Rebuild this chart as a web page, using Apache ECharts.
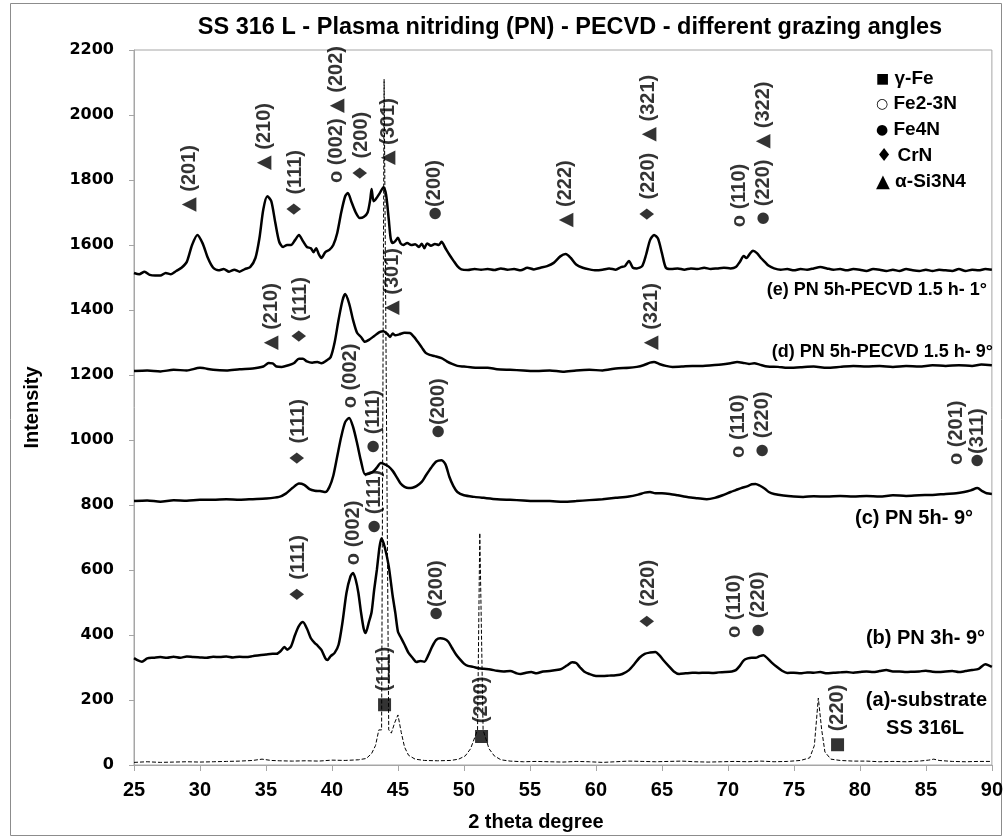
<!DOCTYPE html>
<html>
<head>
<meta charset="utf-8">
<script src="https://cdn.jsdelivr.net/npm/echarts@6/dist/echarts.min.js"></script>
<style>
html, body { margin: 0; padding: 0; background: #fff; }
#main { width: 1006px; height: 840px; }
</style>
</head>
<body>
<div id="main"></div>
<script>
// (e) PN 5h-PECVD 1.5 h - 1°
var thetaE = [25.0, 25.4, 25.8, 26.2, 26.6, 27.0, 27.4, 27.8, 28.2, 28.6, 29.0, 29.4, 29.8, 30.2, 30.6, 31.0, 31.4, 31.8, 32.2, 32.6, 33.0, 33.4, 33.8, 34.2, 34.5, 34.8, 35.1, 35.4, 35.7, 36.0, 36.3, 36.6, 36.9, 37.2, 37.5, 37.8, 38.1, 38.4, 38.6, 38.8, 39.0, 39.2, 39.5, 39.8, 40.1, 40.4, 40.7, 41.0, 41.2, 41.5, 41.8, 42.1, 42.4, 42.7, 42.9, 43.0, 43.15, 43.3, 43.6, 43.9, 44.1, 44.3, 44.45, 44.6, 44.8, 45.0, 45.2, 45.4, 45.7, 46.0, 46.3, 46.6, 46.8, 47.0, 47.2, 47.5, 47.8, 48.1, 48.3, 48.6, 48.9, 49.2, 49.5, 49.8, 50.3, 50.8, 51.3, 51.8, 52.3, 52.8, 53.3, 53.8, 54.3, 54.8, 55.3, 55.8, 56.3, 56.8, 57.3, 57.7, 58.1, 58.5, 59.0, 59.5, 60.0, 60.5, 61.0, 61.5, 61.9, 62.2, 62.5, 62.8, 63.1, 63.5, 63.8, 64.1, 64.4, 64.7, 65.0, 65.3, 65.7, 66.2, 66.7, 67.2, 67.7, 68.2, 68.7, 69.2, 69.7, 70.2, 70.6, 70.9, 71.2, 71.4, 71.7, 71.9, 72.2, 72.5, 72.8, 73.1, 73.5, 74.0, 74.5, 75.0, 75.5, 76.0, 76.5, 77.0, 77.5, 78.0, 78.5, 79.0, 79.5, 80.0, 80.5, 81.0, 81.5, 82.0, 82.5, 83.0, 83.5, 84.0, 84.5, 85.0, 85.5, 86.0, 86.5, 87.0, 87.5, 88.0, 88.5, 89.0, 89.5, 90.0];
var intE = [1514, 1510, 1518, 1508, 1506, 1506, 1514, 1510, 1520, 1530, 1548, 1600, 1631, 1605, 1560, 1530, 1522, 1526, 1518, 1524, 1518, 1526, 1532, 1560, 1620, 1710, 1750, 1735, 1670, 1610, 1594, 1600, 1600, 1615, 1631, 1612, 1594, 1590, 1578, 1590, 1572, 1560, 1578, 1585, 1600, 1637, 1700, 1750, 1760, 1730, 1700, 1683, 1686, 1700, 1740, 1772, 1735, 1740, 1758, 1778, 1755, 1680, 1620, 1606, 1612, 1622, 1605, 1600, 1606, 1600, 1602, 1594, 1604, 1590, 1605, 1598, 1603, 1600, 1610, 1590, 1570, 1552, 1535, 1525, 1523, 1526, 1524, 1526, 1523, 1528, 1524, 1526, 1522, 1530, 1525, 1530, 1535, 1545, 1565, 1572, 1560, 1540, 1530, 1525, 1522, 1524, 1528, 1524, 1532, 1535, 1551, 1530, 1528, 1535, 1570, 1615, 1631, 1620, 1575, 1530, 1526, 1528, 1524, 1528, 1526, 1530, 1526, 1528, 1530, 1528, 1532, 1548, 1566, 1560, 1575, 1582, 1575, 1560, 1548, 1536, 1528, 1524, 1526, 1522, 1526, 1524, 1528, 1532, 1528, 1524, 1526, 1522, 1526, 1524, 1520, 1526, 1524, 1520, 1524, 1520, 1526, 1522, 1520, 1524, 1520, 1524, 1522, 1520, 1526, 1520, 1524, 1522, 1526, 1524];

// (d) PN 5h-PECVD 1.5 h - 9°
var thetaD = [25.0, 26.0, 27.0, 28.0, 29.0, 30.0, 31.0, 32.0, 33.0, 34.0, 34.8, 35.2, 35.5, 35.8, 36.2, 36.7, 37.1, 37.5, 37.8, 38.1, 38.5, 38.9, 39.2, 39.6, 39.9, 40.2, 40.5, 40.8, 41.0, 41.3, 41.6, 41.9, 42.2, 42.5, 42.8, 43.2, 43.6, 43.9, 44.2, 44.4, 44.6, 44.8, 45.1, 45.5, 45.9, 46.2, 46.5, 46.8, 47.1, 47.4, 47.8, 48.3, 48.7, 49.1, 49.5, 50.0, 50.5, 51.0, 51.8, 52.5, 53.5, 54.5, 55.5, 56.5, 57.5, 58.5, 59.5, 60.5, 61.5, 62.5, 63.1, 63.6, 64.1, 64.4, 64.8, 65.3, 65.8, 66.5, 67.3, 68.1, 68.8, 69.5, 70.2, 70.7, 71.1, 71.6, 72.0, 72.4, 73.0, 73.8, 74.5, 75.5, 76.5, 77.5, 78.5, 79.5, 80.5, 81.5, 82.5, 83.5, 84.5, 85.5, 86.5, 87.5, 88.5, 89.2, 90.0];
var intD = [1212, 1214, 1211, 1216, 1214, 1222, 1216, 1214, 1218, 1220, 1226, 1237, 1236, 1226, 1225, 1230, 1236, 1250, 1250, 1242, 1238, 1240, 1236, 1245, 1255, 1300, 1370, 1430, 1449, 1420, 1369, 1330, 1317, 1302, 1308, 1320, 1332, 1335, 1326, 1317, 1328, 1322, 1325, 1330, 1329, 1318, 1302, 1285, 1268, 1262, 1258, 1252, 1242, 1234, 1228, 1226, 1224, 1222, 1222, 1218, 1216, 1214, 1212, 1214, 1210, 1214, 1216, 1214, 1220, 1222, 1225, 1230, 1238, 1240, 1234, 1228, 1225, 1226, 1228, 1228, 1230, 1232, 1236, 1240, 1238, 1234, 1236, 1232, 1226, 1225, 1222, 1224, 1226, 1222, 1225, 1228, 1226, 1228, 1225, 1228, 1226, 1230, 1228, 1230, 1228, 1232, 1230];

// (c) PN 5h - 9°
var thetaC = [25.0, 26.0, 27.0, 28.0, 29.0, 30.0, 31.0, 32.0, 33.0, 34.0, 35.0, 36.0, 36.5, 37.0, 37.5, 37.9, 38.3, 38.7, 39.1, 39.5, 39.8, 40.1, 40.4, 40.7, 41.0, 41.3, 41.6, 41.9, 42.2, 42.5, 42.8, 43.1, 43.4, 43.7, 44.0, 44.3, 44.6, 44.9, 45.2, 45.5, 45.8, 46.1, 46.4, 46.8, 47.1, 47.5, 47.9, 48.3, 48.6, 48.9, 49.2, 49.5, 50.0, 50.8, 51.5, 52.5, 53.5, 54.5, 55.5, 56.5, 57.5, 58.5, 59.5, 60.5, 61.5, 62.5, 63.2, 63.7, 64.1, 64.5, 65.0, 65.6, 66.2, 67.0, 67.7, 68.4, 69.0, 69.6, 70.2, 70.6, 71.0, 71.5, 71.8, 72.1, 72.4, 72.8, 73.1, 73.5, 74.2, 75.0, 75.7, 76.5, 77.5, 78.5, 79.5, 80.5, 81.5, 82.5, 83.5, 84.5, 85.5, 86.5, 87.3, 87.9, 88.4, 88.9, 89.3, 89.6, 90.0];
var intC = [812, 814, 810, 815, 813, 816, 816, 818, 816, 818, 820, 825, 835, 852, 866, 862, 849, 844, 843, 840, 855, 890, 950, 1010, 1055, 1068, 1040, 991, 935, 895, 896, 902, 915, 929, 925, 918, 905, 886, 866, 856, 852, 853, 858, 871, 890, 914, 934, 938, 925, 886, 858, 840, 830, 825, 822, 818, 816, 814, 812, 812, 810, 812, 815, 818, 822, 826, 832, 838, 840, 836, 836, 834, 830, 824, 821, 818, 822, 830, 840, 846, 852, 858, 864, 865, 860, 850, 840, 834, 829, 826, 825, 827, 826, 828, 826, 828, 826, 830, 828, 830, 831, 834, 836, 840, 845, 852, 842, 836, 834];

// (b) PN 3h - 9°
var thetaB = [25.0, 25.3, 25.6, 26.0, 26.5, 27.0, 27.5, 28.0, 28.5, 29.0, 29.5, 30.0, 30.5, 31.0, 31.5, 32.0, 32.5, 33.0, 33.5, 34.0, 34.5, 35.0, 35.5, 35.8, 36.1, 36.4, 36.6, 36.9, 37.2, 37.5, 37.8, 38.1, 38.4, 38.7, 38.9, 39.2, 39.5, 39.65, 39.9, 40.2, 40.5, 40.8, 41.1, 41.4, 41.6, 41.8, 42.0, 42.2, 42.4, 42.55, 42.8, 43.0, 43.2, 43.4, 43.6, 43.75, 44.0, 44.3, 44.6, 44.8, 45.0, 45.2, 45.5, 45.8, 46.1, 46.4, 46.7, 47.0, 47.3, 47.6, 47.9, 48.2, 48.5, 48.8, 49.1, 49.4, 49.7, 50.0, 50.3, 50.7, 51.1, 51.5, 52.0, 52.5, 53.0, 53.5, 54.0, 54.3, 54.7, 55.1, 55.5, 56.0, 56.5, 57.0, 57.4, 57.8, 58.2, 58.5, 58.8, 59.1, 59.5, 60.0, 60.5, 61.0, 61.5, 62.0, 62.5, 62.9, 63.3, 63.7, 64.1, 64.5, 64.8, 65.1, 65.5, 65.9, 66.3, 66.8, 67.3, 67.8, 68.3, 68.8, 69.3, 69.8, 70.3, 70.6, 70.9, 71.2, 71.5, 71.8, 72.1, 72.4, 72.7, 73.0, 73.3, 73.7, 74.1, 74.5, 75.0, 75.5, 76.0, 76.5, 77.0, 77.5, 78.0, 78.5, 79.0, 79.5, 80.0, 80.5, 81.0, 81.5, 82.0, 82.5, 83.0, 83.5, 84.0, 84.5, 85.0, 85.5, 86.0, 86.5, 87.0, 87.5, 88.0, 88.5, 89.0, 89.5, 89.8, 90.0];
var intB = [329, 322, 318, 328, 330, 332, 330, 333, 330, 334, 332, 331, 330, 333, 332, 334, 331, 333, 332, 335, 338, 340, 342, 342, 350, 363, 355, 365, 400, 428, 440, 420, 390, 375, 368, 354, 328, 323, 335, 345, 370, 440, 530, 580, 591, 570, 530, 470, 420, 406, 440, 470, 540, 600, 670, 698, 670, 612, 520, 468, 410, 394, 370, 345, 330, 317, 320, 318, 338, 365, 385, 390, 388, 380, 360, 340, 325, 312, 305, 302, 298, 296, 294, 290, 288, 289, 282, 280, 284, 286, 282, 288, 289, 292, 296, 306, 316, 314, 300, 288, 280, 274, 274, 275, 276, 280, 292, 310, 330, 342, 346, 348, 338, 323, 305, 288, 280, 282, 284, 283, 284, 283, 285, 286, 288, 292, 305, 322, 328, 330, 330, 335, 338, 328, 316, 302, 290, 283, 284, 282, 285, 284, 286, 282, 284, 285, 286, 284, 286, 288, 286, 289, 292, 288, 288, 286, 287, 288, 290, 287, 286, 288, 289, 286, 289, 292, 296, 310, 306, 302];

// (a) substrate SS 316L
var thetaA = [25.0, 26.0, 27.0, 28.0, 29.0, 30.0, 31.0, 32.0, 33.0, 34.0, 34.7, 35.4, 36.0, 37.0, 38.0, 39.0, 40.0, 41.0, 42.0, 42.6, 43.0, 43.3, 43.55, 43.76, 43.95, 44.3, 44.5, 44.75, 45.0, 45.25, 45.5, 45.8, 46.3, 47.0, 48.0, 49.0, 49.6, 50.1, 50.5, 51.03, 51.2, 51.45, 51.9, 52.3, 52.8, 53.5, 54.5, 55.5, 56.5, 57.5, 58.5, 59.5, 60.5, 61.5, 62.5, 63.5, 64.5, 65.5, 66.5, 67.5, 68.5, 69.5, 70.5, 71.5, 72.5, 73.5, 74.5, 75.5, 76.2, 76.55, 76.85, 77.1, 77.35, 77.8, 78.5, 79.5, 80.5, 81.5, 82.5, 83.5, 84.5, 85.2, 85.6, 86.0, 87.0, 88.0, 89.0, 90.0];
var intA = [8, 10, 8, 9, 10, 9, 10, 11, 12, 14, 18, 14, 13, 12, 13, 12, 15, 14, 16, 20, 35, 60, 108, 108, 2110, 108, 98, 130, 154, 100, 55, 30, 18, 14, 13, 14, 18, 28, 50, 108, 714, 108, 50, 28, 16, 12, 10, 11, 10, 9, 11, 10, 8, 10, 12, 11, 10, 11, 12, 10, 9, 10, 11, 10, 12, 10, 11, 14, 22, 60, 206, 110, 40, 18, 14, 12, 12, 10, 11, 10, 12, 15, 18, 14, 11, 10, 11, 11];

// phase annotations: 2theta, intensity at bottom of label, text
var peakLabels = [
    [29.2, 1702, '{tri|▲} (201)'],
    [34.86, 1831, '{tri|▲} (210)'],
    [37.27, 1683, '{dia|♦} (111)'],
    [40.36, 1791, 'o (002) {tri|▲} (202)'],
    [42.24, 1794, '{dia|♦} (200)'],
    [44.28, 1846, '{tri|▲} (301)'],
    [47.8, 1677, '{dot|●}(200)'],
    [57.7, 1655, '{tri|▲} (222)'],
    [64.0, 1668, '{dia|♦} (220)  {tri|▲} (321)'],
    [70.86, 1655, 'o (110)'],
    [72.67, 1662, '{dot|●} (220)  {tri|▲} (322)'],
    [35.4, 1277, '{tri|▲} (210)'],
    [37.65, 1292, '{dia|♦} (111)'],
    [44.58, 1385, '{tri|▲} (301)'],
    [64.2, 1277, '{tri|▲} (321)'],
    [37.5, 917, '{dia|♦} (111)'],
    [41.4, 1098, 'o (002)'],
    [43.15, 960, '{dot|●} (111)'],
    [48.04, 1006, '{dot|●}(200)'],
    [70.8, 945, 'o (110)'],
    [72.6, 948, '{dot|●} (220)'],
    [87.3, 923, 'o (201)'],
    [88.9, 917, '{dot|●}(311)'],
    [37.5, 498, '{dia|♦} (111)'],
    [41.64, 615, 'o (002)'],
    [43.2, 714, '{dot|●} (111)'],
    [47.9, 446, '{dot|●}(200)'],
    [64.0, 415, '{dia|♦} (220)'],
    [70.5, 391, 'o (110)'],
    [72.3, 394, '{dot|●} (220)'],
    [44.0, 160, '{sq|■} (111)'],
    [51.3, 62, '{sq|■} (200)'],
    [78.3, 37, '{sq|■} (220)']
];

var legendItems = ['{m|■} γ-Fe', '{m|○} Fe2-3N', '{m|●} Fe4N', '{d|♦} CrN', '{t|▲} α-Si3N4'];
var curveNames = ['(e) PN 5h-PECVD 1.5 h- 1°', '(d) PN 5h-PECVD 1.5 h- 9°', '(c) PN 5h- 9°', '(b) PN 3h- 9°', '(a)-substrate', 'SS 316L'];

function pairs(xs, ys) {
    return xs.map(function (x, i) { return [x, ys[i]]; });
}

var labelFont = 'Liberation Sans, Arial, sans-serif';

function curve(name, xs, ys, dashed) {
    return {
        name: name,
        type: 'line',
        data: pairs(xs, ys),
        symbol: 'none',
        smooth: dashed ? false : 0.25,
        lineStyle: {
            color: '#000',
            width: dashed ? 1 : 2.5,
            type: dashed ? [4, 2] : 'solid'
        },
        z: 3
    };
}

function boldText(x, y, text, align, size) {
    return {
        type: 'text', x: x, y: y,
        style: { text: text, font: 'bold ' + size + 'px ' + labelFont, fill: '#000', align: align, verticalAlign: 'middle' }
    };
}

var chart = echarts.init(document.getElementById('main'));

var option = {
    backgroundColor: '#fff',
    animation: false,
    grid: { left: 134, right: 9, top: 50, bottom: 75, show: true, borderColor: '#a6a6a6', borderWidth: 1 },
    xAxis: {
        type: 'value', min: 25, max: 90, interval: 5,
        name: '2 theta degree', nameLocation: 'middle', nameGap: 47,
        nameTextStyle: { fontFamily: labelFont, fontWeight: 'bold', fontSize: 20, color: '#000', padding: [0, 54, 0, 0] },
        axisLine: { lineStyle: { color: '#a6a6a6' } },
        axisTick: { show: true, length: 6, lineStyle: { color: '#a6a6a6' } },
        axisLabel: { fontFamily: labelFont, fontWeight: 'bold', fontSize: 20, color: '#000', margin: 15 },
        splitLine: { show: false }
    },
    yAxis: {
        type: 'value', min: 0, max: 2200, interval: 200,
        name: 'Intensity', nameLocation: 'middle', nameGap: 92,
        nameTextStyle: { fontFamily: labelFont, fontWeight: 'bold', fontSize: 20, color: '#000' },
        axisLine: { show: true, lineStyle: { color: '#a6a6a6' } },
        axisTick: { show: true, length: 5, lineStyle: { color: '#a6a6a6' } },
        axisLabel: {
            fontFamily: 'DejaVu Sans', fontWeight: 'bold', fontSize: 16, color: '#000', margin: 20,
            formatter: function (v) { return String(v); }
        },
        splitLine: { show: false }
    },
    graphic: [
        { type: 'rect', shape: { x: 10.5, y: 3.5, width: 991, height: 832 }, style: { fill: 'none', stroke: '#8c8c8c', lineWidth: 1 }, silent: true },
        boldText(570, 28, 'SS 316 L - Plasma nitriding (PN) - PECVD - different grazing angles', 'center', 23.5),
        boldText(987, 290, curveNames[0], 'right', 18),
        boldText(993, 352, curveNames[1], 'right', 18),
        boldText(973, 518, curveNames[2], 'right', 20),
        boldText(985, 638, curveNames[3], 'right', 20),
        boldText(987, 700, curveNames[4], 'right', 20),
        boldText(925, 728, curveNames[5], 'center', 20)
    ].concat(legendItems.map(function (t, i) {
        return {
            type: 'text', x: 876, y: [79, 104, 130, 156, 182][i],
            style: {
                text: t, font: 'bold 19px ' + labelFont, fill: '#000', verticalAlign: 'middle',
                rich: {
                    m: { fontFamily: 'DejaVu Sans', fontSize: 14, verticalAlign: 'middle' },
                    d: { fontFamily: 'DejaVu Sans', fontSize: 18, verticalAlign: 'middle' },
                    t: { fontFamily: 'DejaVu Sans', fontSize: 18, verticalAlign: 'middle' }
                }
            }
        };
    })),
    series: [
        curve('(e)', thetaE, intE, false),
        curve('(d)', thetaD, intD, false),
        curve('(c)', thetaC, intC, false),
        curve('(b)', thetaB, intB, false),
        curve('(a)', thetaA, intA, true),
        {
            name: 'phases',
            type: 'scatter',
            symbol: 'circle',
            symbolSize: 1,
            itemStyle: { color: 'rgba(0,0,0,0)' },
            silent: true,
            z: 5,
            data: peakLabels.map(function (p) {
                return { value: [p[0], p[1]], label: { formatter: p[2] } };
            }),
            label: {
                show: true,
                position: 'inside',
                rotate: 90,
                align: 'left',
                verticalAlign: 'middle',
                fontFamily: labelFont,
                fontWeight: 'bold',
                fontSize: 20,
                color: '#000',
                rich: {
                    tri: { fontFamily: 'DejaVu Sans', fontSize: 19, verticalAlign: 'middle' },
                    dia: { fontFamily: 'DejaVu Sans', fontSize: 20, verticalAlign: 'middle' },
                    dot: { fontFamily: 'DejaVu Sans', fontSize: 15, verticalAlign: 'middle' },
                    sq: { fontFamily: 'DejaVu Sans', fontSize: 17, verticalAlign: 'middle' }
                }
            }
        }
    ]
};

chart.setOption(option);
</script>
</body>
</html>
